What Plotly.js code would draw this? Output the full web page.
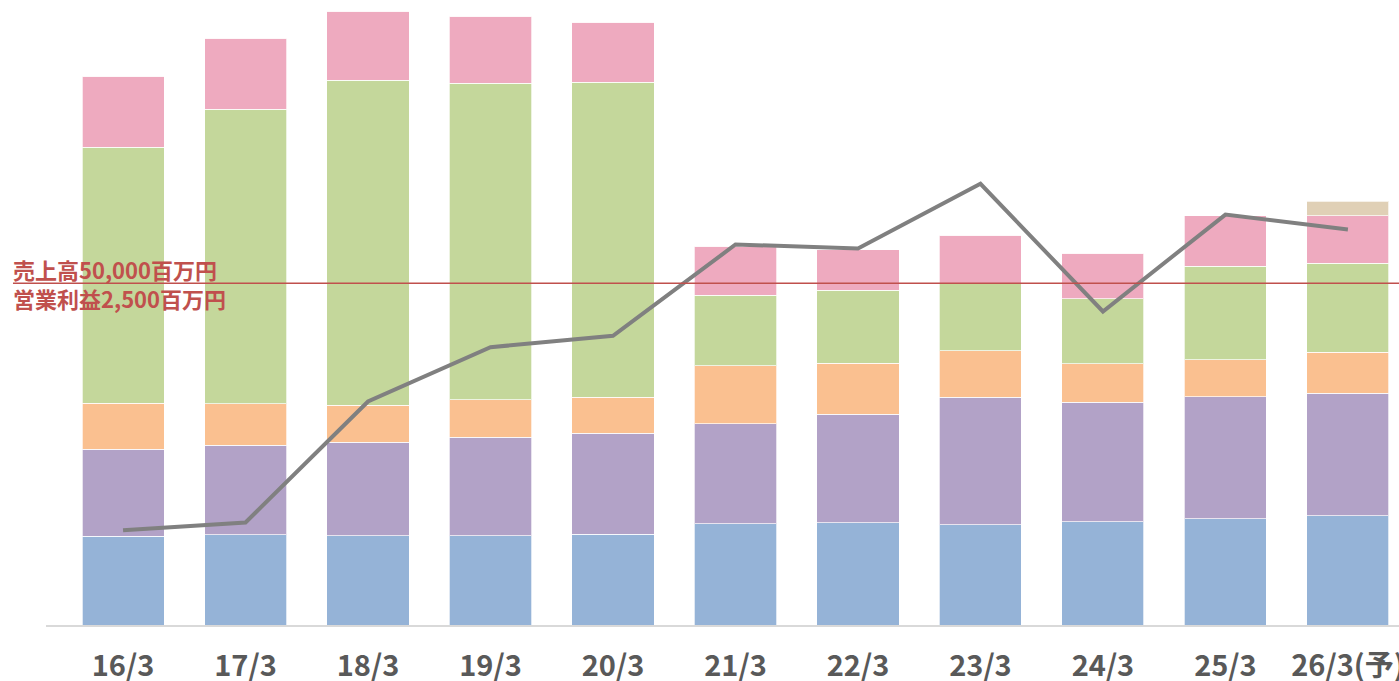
<!DOCTYPE html>
<html>
<head>
<meta charset="utf-8">
<script src="https://cdn.plot.ly/plotly-3.0.1.min.js"></script>
<style>html,body{margin:0;padding:0;background:#fff;}#chart{width:1399px;height:681px;}</style>
</head>
<body>
<div id="chart"></div>
<script>
const categories = ["16/3","17/3","18/3","19/3","20/3","21/3","22/3","23/3","24/3","25/3","26/3(予)"];
// Sales segments (百万円)
const seg1 = [12990,13196,13050,13050,13240,14806,14952,14659,15098,15537,15976];
const seg2 = [12728,13108,13694,14381,14820,14630,15888,18668,17497,17849,17936];
const seg3 = [6686,6057,5413,5516,5223,8485,7417,6788,5618,5413,5954];
const seg4 = [37453,43056,47504,46275,46128,10285,10680,9890,9510,13650,13021];
const seg5 = [10387,10387,10095,9802,8734,7213,5954,6979,6671,7417,6979];
const seg6 = [0,0,0,0,0,0,0,0,0,0,2092];
// Operating profit (百万円)
const profit = [693,750,1635,2032,2115,2783,2754,3227,2293,3002,2893];

const refSales = 50000;
const refProfit = 2500;
const refLabel = "売上高50,000百万円<br>営業利益2,500百万円";

const segs = [seg1,seg2,seg3,seg4,seg5,seg6];
const colors = ["#95b3d7","#b2a2c7","#fac090","#c4d79b","#eeaabf","#e0d0b6"];
const xs = categories.map((c,i)=>i);

const traces = segs.map((s,k)=>({
  type:"bar", x:xs, y:s, width:0.67,
  marker:{color:colors[k], line:{color:"rgba(255,255,255,0.7)", width:1}},
  hoverinfo:"y", showlegend:false
}));
traces.push({
  type:"scatter", mode:"lines", x:xs, y:profit, yaxis:"y2",
  line:{color:"#808080", width:4}, showlegend:false
});

const plotH = 625, baseline = 624.5, refPx = 282.7;
const yMax = refSales * plotH / (baseline - refPx);
const y2Max = refProfit * plotH / (baseline - refPx);

const layout = {
  width:1399, height:681,
  margin:{l:46, r:0, t:0, b:56, pad:0},
  paper_bgcolor:"#fff", plot_bgcolor:"#fff",
  barmode:"stack", bargap:0,
  showlegend:false,
  xaxis:{
    range:[-0.629, 10.417], tickvals:xs, ticktext:categories,
    showgrid:false, zeroline:false, showline:true, linecolor:"#d9d9d9", linewidth:2,
    ticks:"outside", ticklen:14, tickcolor:"rgba(0,0,0,0)",
    ticklabeloverflow:"allow",
    tickfont:{family:"Noto Sans CJK JP", size:29, color:"#595959", weight:"bold"}
  },
  yaxis:{range:[0,yMax], showgrid:false, zeroline:false, showticklabels:false, showline:false},
  yaxis2:{range:[0,y2Max], overlaying:"y", side:"right", showgrid:false, zeroline:false, showticklabels:false, showline:false},
  shapes:[{type:"line", xref:"paper", yref:"y", x0:-0.0244, x1:1, y0:refSales, y1:refSales,
    line:{color:"#c0504d", width:1.5}, layer:"above"}],
  annotations:[{xref:"paper", yref:"y", x:-0.0256, y:refSales, xanchor:"left", yanchor:"middle",
    text:refLabel, showarrow:false, align:"left",
    font:{family:"Noto Sans CJK JP", size:22, color:"#c0504d", weight:"bold"}}]
};

Plotly.newPlot("chart", traces, layout, {displayModeBar:false, staticPlot:true});
</script>
</body>
</html>
